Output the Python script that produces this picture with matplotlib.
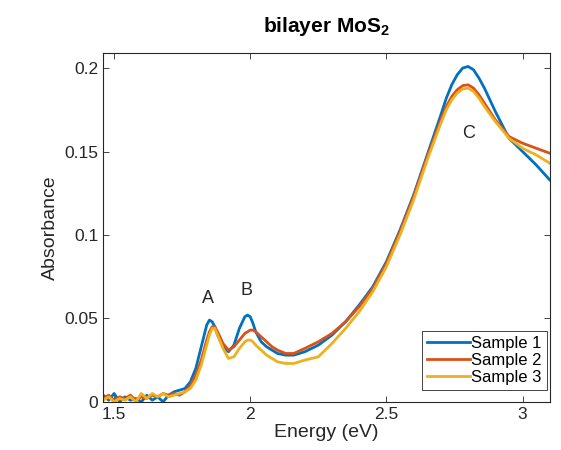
import matplotlib
matplotlib.use("Agg")
import matplotlib.pyplot as plt

plt.rcParams['font.family'] = ['Liberation Sans', 'DejaVu Sans']
plt.rcParams['mathtext.fontset'] = 'custom'
plt.rcParams['mathtext.bf'] = 'Liberation Sans:bold'
plt.rcParams['mathtext.rm'] = 'Liberation Sans'

# energy grid (eV)
energy = [1.46, 1.48, 1.50, 1.52, 1.54, 1.56, 1.58, 1.60, 1.62, 1.64, 1.66, 1.68,
          1.70, 1.72, 1.74, 1.76, 1.78, 1.80, 1.82, 1.84, 1.85, 1.86, 1.87, 1.88,
          1.90, 1.92, 1.94, 1.96, 1.98, 1.99, 2.00, 2.01, 2.02, 2.04, 2.06, 2.08,
          2.10, 2.13, 2.16, 2.20, 2.25, 2.30, 2.35, 2.40, 2.45, 2.50, 2.55, 2.60,
          2.65, 2.70, 2.72, 2.74, 2.76, 2.78, 2.80, 2.82, 2.84, 2.86, 2.90, 2.95,
          3.00, 3.05, 3.10]

sample1 = [0.004, 0.001, 0.005, 0.000, 0.003, 0.001, 0.002, 0.000, 0.004, 0.001, 0.003, 0.000,
           0.004, 0.006, 0.007, 0.008, 0.012, 0.020, 0.033, 0.046, 0.049, 0.048, 0.045, 0.040,
           0.033, 0.030, 0.034, 0.044, 0.051, 0.052, 0.051, 0.047, 0.042, 0.036, 0.033, 0.031,
           0.029, 0.028, 0.028, 0.030, 0.034, 0.040, 0.048, 0.058, 0.069, 0.084, 0.103, 0.124,
           0.148, 0.172, 0.182, 0.190, 0.196, 0.200, 0.201, 0.199, 0.194, 0.188, 0.174, 0.158,
           0.150, 0.142, 0.133]

sample2 = [0.002, 0.004, 0.001, 0.003, 0.002, 0.004, 0.001, 0.003, 0.002, 0.004, 0.003, 0.005,
           0.004, 0.005, 0.004, 0.006, 0.010, 0.016, 0.025, 0.037, 0.042, 0.045, 0.045, 0.042,
           0.035, 0.031, 0.033, 0.037, 0.041, 0.042, 0.043, 0.043, 0.042, 0.039, 0.036, 0.033,
           0.031, 0.029, 0.029, 0.032, 0.036, 0.041, 0.048, 0.057, 0.068, 0.083, 0.102, 0.123,
           0.147, 0.169, 0.177, 0.183, 0.187, 0.1895, 0.190, 0.188, 0.184, 0.179, 0.169, 0.159,
           0.155, 0.152, 0.149]

sample3 = [0.001, 0.003, 0.000, 0.002, 0.001, 0.003, 0.000, 0.005, 0.002, 0.005, 0.003, 0.005,
           0.003, 0.004, 0.005, 0.006, 0.008, 0.013, 0.022, 0.034, 0.040, 0.044, 0.044, 0.040,
           0.032, 0.026, 0.027, 0.032, 0.036, 0.037, 0.037, 0.036, 0.034, 0.031, 0.028, 0.026,
           0.024, 0.023, 0.023, 0.025, 0.027, 0.035, 0.044, 0.054, 0.066, 0.081, 0.100, 0.121,
           0.145, 0.167, 0.175, 0.181, 0.185, 0.1875, 0.188, 0.186, 0.182, 0.177, 0.168, 0.158,
           0.152, 0.148, 0.143]

labels = ["Sample 1", "Sample 2", "Sample 3"]
colors = [(0, 0.447, 0.741), (0.85, 0.325, 0.098), (0.929, 0.694, 0.125)]

# peak annotations
peak_names = ["A", "B", "C"]
peak_x = [1.846, 1.985, 2.80]
peak_y = [0.062, 0.067, 0.161]

fig = plt.figure(figsize=(5.61, 4.5), dpi=100)
ax = fig.add_axes([0.184, 0.107, 0.796, 0.775])

for ys, lab, c in zip([sample1, sample2, sample3], labels, colors):
    ax.plot(energy, ys, color=c, lw=2, label=lab)

for name, px, py in zip(peak_names, peak_x, peak_y):
    ax.text(px, py, name, fontsize=13, ha="center", va="center", color="#262626")

ax.set_xlim(1.46, 3.1)
ax.set_ylim(0, 0.209)
ax.set_xticks([1.5, 2, 2.5, 3])
ax.set_xticklabels(["1.5", "2", "2.5", "3"])
ax.set_yticks([0, 0.05, 0.1, 0.15, 0.2])
ax.set_yticklabels(["0", "0.05", "0.1", "0.15", "0.2"])
ax.tick_params(direction="in", top=True, right=True, labelsize=12.5,
               colors="#262626", length=4, width=0.6)
for s in ax.spines.values():
    s.set_color("#262626")
    s.set_linewidth(0.8)

ax.set_xlabel("Energy (eV)", fontsize=14, color="#262626", labelpad=2)
ax.set_ylabel("Absorbance", fontsize=14, color="#262626", labelpad=4)
ax.set_title(r"bilayer MoS$_\mathbf{2}$", fontsize=15, fontweight="bold", pad=15)

leg = ax.legend(loc="lower right", bbox_to_anchor=(0.993, 0.034), fontsize=12,
                handlelength=2.6, handletextpad=0.05, borderpad=0.3,
                labelspacing=0.12, fancybox=False, framealpha=1, borderaxespad=0)
leg.get_frame().set_edgecolor("#262626")
leg.get_frame().set_linewidth(0.6)

fig.savefig("out.png", dpi=100)
